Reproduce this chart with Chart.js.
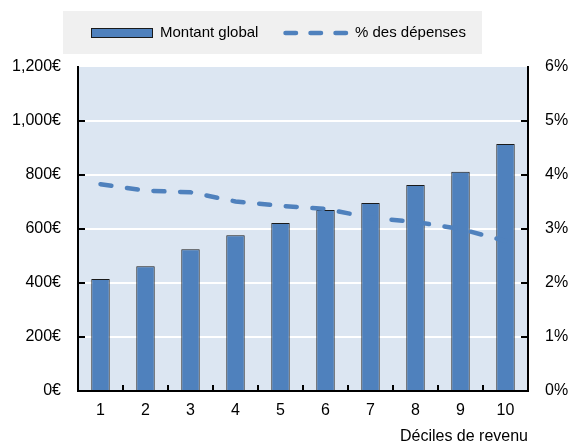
<!DOCTYPE html>
<html>
<head>
  <title>Montant global et % des dépenses</title>
  <script src="https://cdn.jsdelivr.net/npm/chart.js@4.4.0/dist/chart.umd.min.js"></script>
  <style>
    body { margin: 0; background: #fff; }
    #wrap { width: 570px; height: 446px; }
  </style>
</head>
<body>
  <div id="wrap"><canvas id="chart" width="570" height="446"></canvas></div>

  <script>
    // chart data
    const deciles = ['1', '2', '3', '4', '5', '6', '7', '8', '9', '10'];
    const montantGlobal = [415, 462, 525, 577, 622, 670, 696, 763, 812, 915];
    const pctDepenses = [3.83, 3.71, 3.68, 3.51, 3.43, 3.37, 3.21, 3.13, 3.00, 2.78];
    const legendLabels = ['Montant global', '% des dépenses'];
    const xTitle = 'Déciles de revenu';

    const FONT = "'Liberation Sans', Arial, sans-serif";
    const BAR_COLOR = '#4f81bd';
    const LINE_COLOR = '#4f81bd';

    // background of plot area + legend box
    const decorPlugin = {
      id: 'decor',
      beforeDraw(chart) {
        const { ctx, chartArea: a } = chart;
        ctx.save();
        ctx.fillStyle = '#dce6f2';
        ctx.fillRect(a.left, a.top, a.right - a.left, a.bottom - a.top);

        // legend
        ctx.fillStyle = '#f0f0f0';
        ctx.fillRect(63, 11, 419, 43);
        ctx.fillStyle = BAR_COLOR;
        ctx.fillRect(91, 28, 62, 10);
        ctx.strokeStyle = '#1a1a1a';
        ctx.lineWidth = 1;
        ctx.strokeRect(91.5, 28.5, 61, 9);
        ctx.strokeStyle = LINE_COLOR;
        ctx.lineWidth = 4.5;
        ctx.lineCap = 'round';
        ctx.setLineDash([10.5, 14.5]);
        ctx.beginPath();
        ctx.moveTo(285.5, 33);
        ctx.lineTo(348, 33);
        ctx.stroke();
        ctx.setLineDash([]);
        ctx.fillStyle = '#000';
        ctx.font = '15px ' + FONT;
        ctx.textBaseline = 'middle';
        ctx.fillText(legendLabels[0], 160, 33);
        ctx.fillText(legendLabels[1], 355, 33);
        ctx.restore();
      },
      afterDraw(chart) {
        // inward tick marks
        const { ctx, chartArea: a, scales } = chart;
        ctx.save();
        ctx.strokeStyle = '#000';
        ctx.lineWidth = 2;
        ctx.beginPath();
        scales.y.ticks.forEach(t => {
          if (t.value <= 0 || t.value >= 1200) return;
          const py = Math.round(scales.y.getPixelForValue(t.value));
          ctx.moveTo(a.left, py);
          ctx.lineTo(a.left + 7, py);
        });
        scales.y1.ticks.forEach(t => {
          if (t.value <= 0 || t.value >= 6) return;
          const py = Math.round(scales.y1.getPixelForValue(t.value));
          ctx.moveTo(a.right, py);
          ctx.lineTo(a.right - 7, py);
        });
        for (let i = 0; i < deciles.length - 1; i++) {
          const px = Math.round((scales.x.getPixelForValue(i) + scales.x.getPixelForValue(i + 1)) / 2);
          ctx.moveTo(px, a.bottom);
          ctx.lineTo(px, a.bottom - 6);
        }
        ctx.stroke();
        ctx.restore();
      }
    };

    const gridColor = ctx => (ctx.index === 0 || ctx.index === 6) ? 'rgba(0,0,0,0)' : '#ffffff';

    new Chart(document.getElementById('chart'), {
      data: {
        labels: deciles,
        datasets: [
          {
            type: 'line',
            label: legendLabels[1],
            data: pctDepenses,
            yAxisID: 'y1',
            borderColor: LINE_COLOR,
            borderWidth: 4.5,
            borderDash: [11, 15.7],
            borderCapStyle: 'round',
            pointRadius: 0,
            tension: 0,
            order: 0
          },
          {
            type: 'bar',
            label: legendLabels[0],
            data: montantGlobal,
            yAxisID: 'y',
            backgroundColor: BAR_COLOR,
            borderColor: '#1a1a1a',
            borderWidth: 1,
            categoryPercentage: 1,
            barPercentage: 0.41,
            order: 1
          }
        ]
      },
      options: {
        responsive: false,
        animation: false,
        layout: { padding: { top: 67, left: 0, right: 0, bottom: 0 } },
        plugins: {
          legend: { display: false },
          tooltip: { enabled: false }
        },
        scales: {
          x: {
            grid: { display: false },
            border: { display: true, color: '#000', width: 2 },
            ticks: { color: '#000', font: { family: FONT, size: 16 }, padding: 2, maxRotation: 0 },
            title: {
              display: true, text: xTitle, align: 'end', color: '#000',
              font: { family: FONT, size: 16 }, padding: { top: 1, bottom: 0 }
            },
            afterFit: s => { s.height = 55; }
          },
          y: {
            position: 'left',
            min: 0, max: 1200,
            ticks: {
              stepSize: 200, color: '#000', padding: 17,
              font: { family: FONT, size: 16 },
              callback: v => v.toLocaleString('en-US') + '€'
            },
            grid: { color: gridColor, lineWidth: 2, drawTicks: false },
            border: { display: true, color: '#000', width: 2 },
            afterFit: s => { s.width = 78; }
          },
          y1: {
            position: 'right',
            min: 0, max: 6,
            ticks: {
              stepSize: 1, color: '#000', padding: 17,
              font: { family: FONT, size: 16 },
              callback: v => v + '%'
            },
            grid: { drawOnChartArea: false, drawTicks: false },
            border: { display: true, color: '#000', width: 2 },
            afterFit: s => { s.width = 42; }
          }
        }
      },
      plugins: [decorPlugin]
    });
  </script>
</body>
</html>
